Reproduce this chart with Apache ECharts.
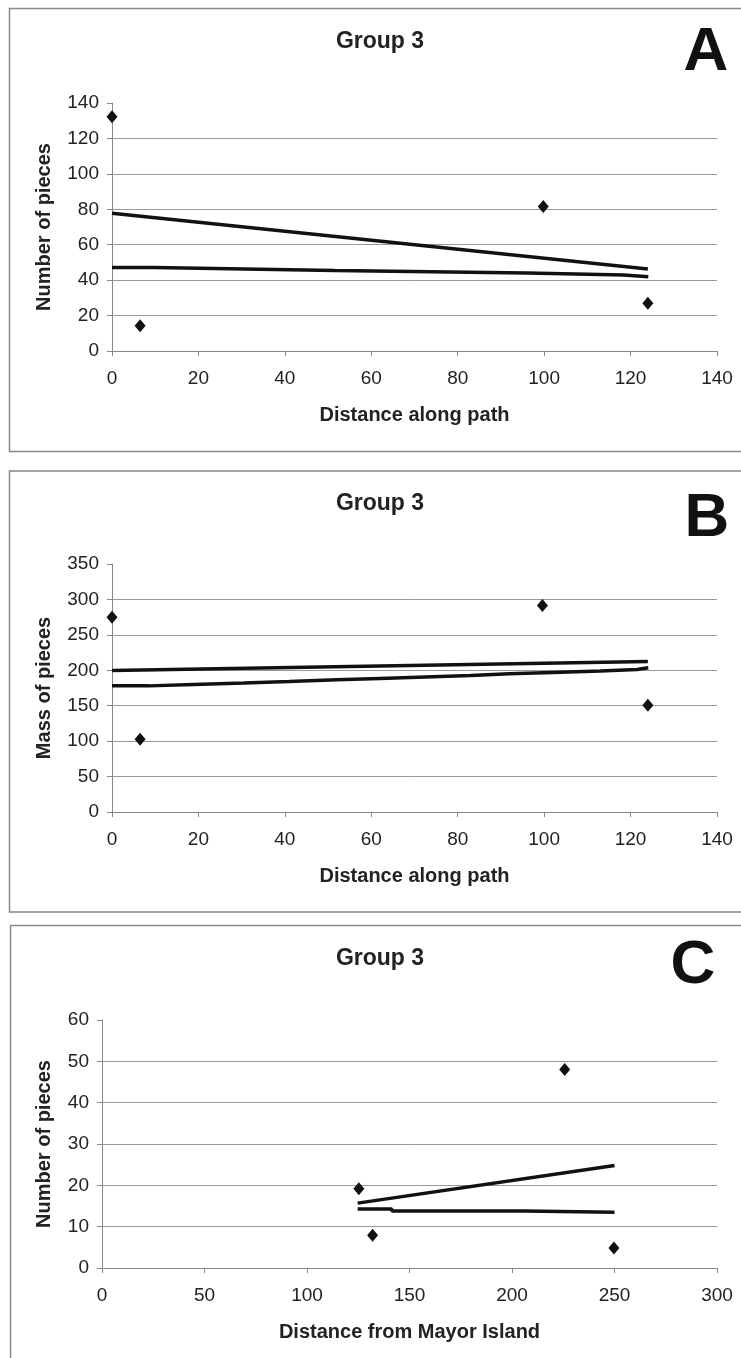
<!DOCTYPE html>
<html>
<head>
<meta charset="utf-8">
<title>Group 3</title>
<script src="https://cdn.jsdelivr.net/npm/echarts@6/dist/echarts.min.js"></script>
<style>
    html, body { margin: 0; padding: 0; background: #fff; }
    #chart { width: 741px; height: 1358px; }
</style>
</head>
<body>
<div id="chart"></div>
<script>
// panel A: number of pieces vs distance along path
var ptsA = [[0, 132.2], [6.5, 14.2], [99.8, 81.6], [124, 26.9]];
var trendA = [[0, 77.8], [124, 46.3]];
var stepXA = [0, 9.7, 30.7, 51.5, 73.8, 96, 118.4, 124.1];
var stepYA = [47.2, 46.3, 45.5, 44.8, 44.0, 42.9, 41.9, 41.9];

// panel B: mass of pieces vs distance along path
var ptsB = [[0, 275], [6.5, 102.5], [99.6, 291.3], [124, 150.7]];
var trendB = [[0, 199.7], [124, 212.5]];
var stepXB = [0, 8.5, 19, 30.5, 41, 52, 62, 72.5, 83, 92, 102, 113, 121.5, 124.1];
var stepYB = [178, 180, 182, 184, 186.5, 188.5, 190.5, 192.5, 195, 197, 199, 201, 203.5, 203.5];

// panel C: number of pieces vs distance from Mayor Island
var ptsC = [[125.3, 19.2], [132, 7.9], [225.7, 48], [249.7, 4.85]];
var trendC = [[124.7, 15.7], [250, 24.8]];
var stepXC = [124.7, 141.4, 206, 250];
var stepYC = [14.3, 13.8, 13.5, 13.5];

var panelTitles = ['Group 3', 'Group 3', 'Group 3'];
var panelLetters = ['A', 'B', 'C'];
var xNames = ['Distance along path', 'Distance along path', 'Distance from Mayor Island'];
var yNames = ['Number of pieces', 'Mass of pieces', 'Number of pieces'];
var xRanges = [[0, 140, 20], [0, 140, 20], [0, 300, 50]];
var yRanges = [[0, 140, 20], [0, 350, 50], [0, 60, 10]];

var FONT = '"Liberation Sans", Arial, sans-serif';
var INK = '#111';

function zip(xs, ys) {
    return xs.map(function (x, i) { return [x, ys[i]]; });
}

var grids = [
    {left: 112, top: 103, width: 605, height: 248},
    {left: 112, top: 564, width: 605, height: 248},
    {left: 102, top: 1020, width: 615, height: 248}
];
var yNameGaps = [58, 58, 48];
var titleY = [42, 504, 959];
var letterY = [53, 519, 966];
var letterX = [706, 707, 693];
var boxes = [[9.5, 8.5, 443], [9.5, 471, 441], [10.5, 925.5, 460]];

var xAxes = [], yAxes = [], series = [], graphics = [];

grids.forEach(function (g, i) {
    xAxes.push({
        gridIndex: i,
        type: 'value',
        min: xRanges[i][0], max: xRanges[i][1], interval: xRanges[i][2],
        name: xNames[i],
        nameLocation: 'middle',
        nameGap: 54,
        nameTextStyle: {fontFamily: FONT, fontWeight: 'bold', fontSize: 20, color: '#222'},
        axisLine: {show: true, lineStyle: {color: '#888', width: 1}},
        axisTick: {show: true, length: 5, lineStyle: {color: '#888'}},
        axisLabel: {fontFamily: FONT, fontSize: 19, color: '#222', margin: 18},
        splitLine: {show: false}
    });
    yAxes.push({
        gridIndex: i,
        type: 'value',
        min: yRanges[i][0], max: yRanges[i][1], interval: yRanges[i][2],
        name: yNames[i],
        nameLocation: 'middle',
        nameGap: yNameGaps[i],
        nameTextStyle: {fontFamily: FONT, fontWeight: 'bold', fontSize: 20, color: '#222'},
        axisLine: {show: true, lineStyle: {color: '#888', width: 1}},
        axisTick: {show: true, length: 5, lineStyle: {color: '#888'}},
        axisLabel: {fontFamily: FONT, fontSize: 19, color: '#222', margin: 13},
        splitLine: {show: true, showMaxLine: false, lineStyle: {color: '#999', width: 1}}
    });

    graphics.push({
        type: 'rect',
        shape: {x: boxes[i][0], y: boxes[i][1], width: 760, height: boxes[i][2]},
        style: {fill: 'none', stroke: '#888', lineWidth: 1.5},
        silent: true
    });
    graphics.push({
        type: 'text',
        x: 380, y: titleY[i],
        style: {
            text: panelTitles[i], font: 'bold 23px ' + FONT, fill: '#222',
            align: 'center', verticalAlign: 'middle'
        }
    });
    graphics.push({
        type: 'text',
        x: letterX[i], y: letterY[i],
        style: {
            text: panelLetters[i], font: 'bold 62px ' + FONT, fill: INK,
            align: 'center', verticalAlign: 'middle'
        }
    });
});

var pts = [ptsA, ptsB, ptsC];
var trends = [trendA, trendB, trendC];
var steps = [zip(stepXA, stepYA), zip(stepXB, stepYB), zip(stepXC, stepYC)];

for (var i = 0; i < 3; i++) {
    series.push({
        type: 'scatter',
        xAxisIndex: i, yAxisIndex: i,
        symbol: 'diamond',
        symbolSize: [11, 13],
        itemStyle: {color: INK, opacity: 1},
        clip: false,
        data: pts[i]
    });
    series.push({
        type: 'line',
        xAxisIndex: i, yAxisIndex: i,
        showSymbol: false,
        lineStyle: {color: INK, width: 3.5},
        clip: false,
        data: trends[i]
    });
    series.push({
        type: 'line',
        xAxisIndex: i, yAxisIndex: i,
        step: 'end',
        showSymbol: false,
        lineStyle: {color: INK, width: 3.5},
        clip: false,
        data: steps[i]
    });
}

var chart = echarts.init(document.getElementById('chart'));
chart.setOption({
    backgroundColor: '#fff',
    animation: false,
    grid: grids,
    xAxis: xAxes,
    yAxis: yAxes,
    series: series,
    graphic: graphics
});
</script>
</body>
</html>
